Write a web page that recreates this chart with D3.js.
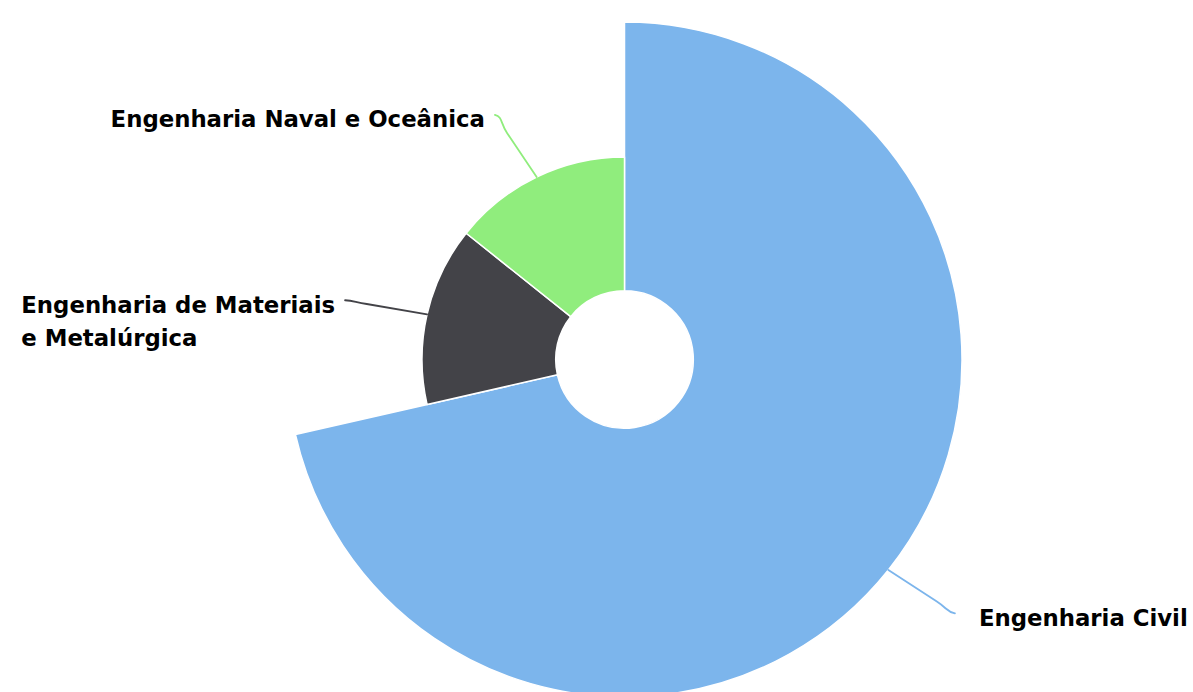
<!DOCTYPE html>
<html><head><meta charset="utf-8">
<script src="https://cdn.jsdelivr.net/npm/d3@7"></script>
<style>body{margin:0;background:#fff;overflow:hidden}</style>
</head><body>
<svg id="chart" width="1193" height="692"></svg>
<script>
// ---- data ----
const categories = ["Engenharia Civil", "Engenharia de Materiais e Metalúrgica", "Engenharia Naval e Oceânica"];
const values = [5, 1, 1];          // slice angle
const zValues = [5, 3, 3];         // slice radius
const colors = ["#7cb5ec", "#434348", "#90ed7d"];

// ---- layout ----
const W = 1193, H = 692;
const cx = 624.5, cy = 359.5, maxR = 337.5, innerR = 68.8;
const labelDistance = 80, gapLeft = 10, gapRight = 24, margin = 20;
const labelNudge = [[4, -6.5], [-4, 3.6], [-7, 10]]; // label de-overlap shifts
const fontSize = 22.8, lineHeight = 33;

const data = categories.map((c, i) => ({name: c, v: values[i], z: zValues[i], color: colors[i], i}));
const svg = d3.select("#chart");
const g = svg.append("g").attr("transform", `translate(${cx},${cy})`);

const rScale = d3.scaleLinear().domain([0, d3.max(zValues)]).range([0, maxR]);
const arcs = d3.pie().sort(null).value(d => d.v)(data);
const arc = d3.arc().innerRadius(innerR).outerRadius(d => rScale(d.data.z));

g.selectAll("path.slice").data(arcs).join("path")
  .attr("class", "slice")
  .attr("d", arc)
  .attr("fill", d => d.data.color)
  .attr("stroke", "#fff").attr("stroke-width", 1.5).attr("stroke-linejoin", "round");

const lab = svg.append("g");
arcs.forEach(d => {
  const a = (d.startAngle + d.endAngle) / 2;
  const r = rScale(d.data.z);
  const sx = Math.sin(a), sy = -Math.cos(a);
  const P = [cx + sx * r, cy + sy * r];
  const nd = labelNudge[d.data.i];
  const E = [cx + sx * (r + labelDistance) + nd[0], cy + sy * (r + labelDistance) + nd[1]];
  const left = sx < 0;
  const s = left ? 1 : -1;
  const dx = P[0] - E[0], dy = P[1] - E[1], L = Math.hypot(dx, dy);
  const ux = dx / L, uy = dy / L;
  const C1 = [E[0] + s * 8, E[1] + uy * 2.5];
  const C2 = [E[0] + ux * 9, E[1] + uy * 9];
  const B = [E[0] + ux * 22, E[1] + uy * 22];
  lab.append("path")
    .attr("d", `M${E[0]},${E[1]} C${C1[0]},${C1[1]} ${C2[0]},${C2[1]} ${B[0]},${B[1]} L${P[0]},${P[1]}`)
    .attr("fill", "none").attr("stroke", d.data.color).attr("stroke-width", 1.8)
    .attr("stroke-linecap", "round");

  const t = lab.append("text")
    .attr("font-family", "'DejaVu Sans', Verdana, sans-serif")
    .attr("font-weight", "bold").attr("font-size", fontSize).attr("fill", "#000");
  // greedy wrap
  const maxW = left ? E[0] - margin : W - E[0] - gapRight - 4;
  const words = d.data.name.split(" ");
  const lines = [];
  let cur = "";
  const probe = t.append("tspan");
  words.forEach(w => {
    const test = cur ? cur + " " + w : w;
    probe.text(test);
    if (probe.node().getComputedTextLength() > maxW && cur) { lines.push(cur); cur = w; }
    else cur = test;
  });
  lines.push(cur);
  probe.remove();
  const spans = lines.map((ln, i) => t.append("tspan").text(ln).attr("dy", i === 0 ? 0 : lineHeight));
  const blockW = d3.max(spans, sp => sp.node().getComputedTextLength());
  const x0 = left ? Math.max(margin, E[0] - gapLeft - blockW) : E[0] + gapRight;
  t.attr("y", E[1] + 12.5);
  spans.forEach(sp => sp.attr("x", x0));
});
</script>
</body></html>
